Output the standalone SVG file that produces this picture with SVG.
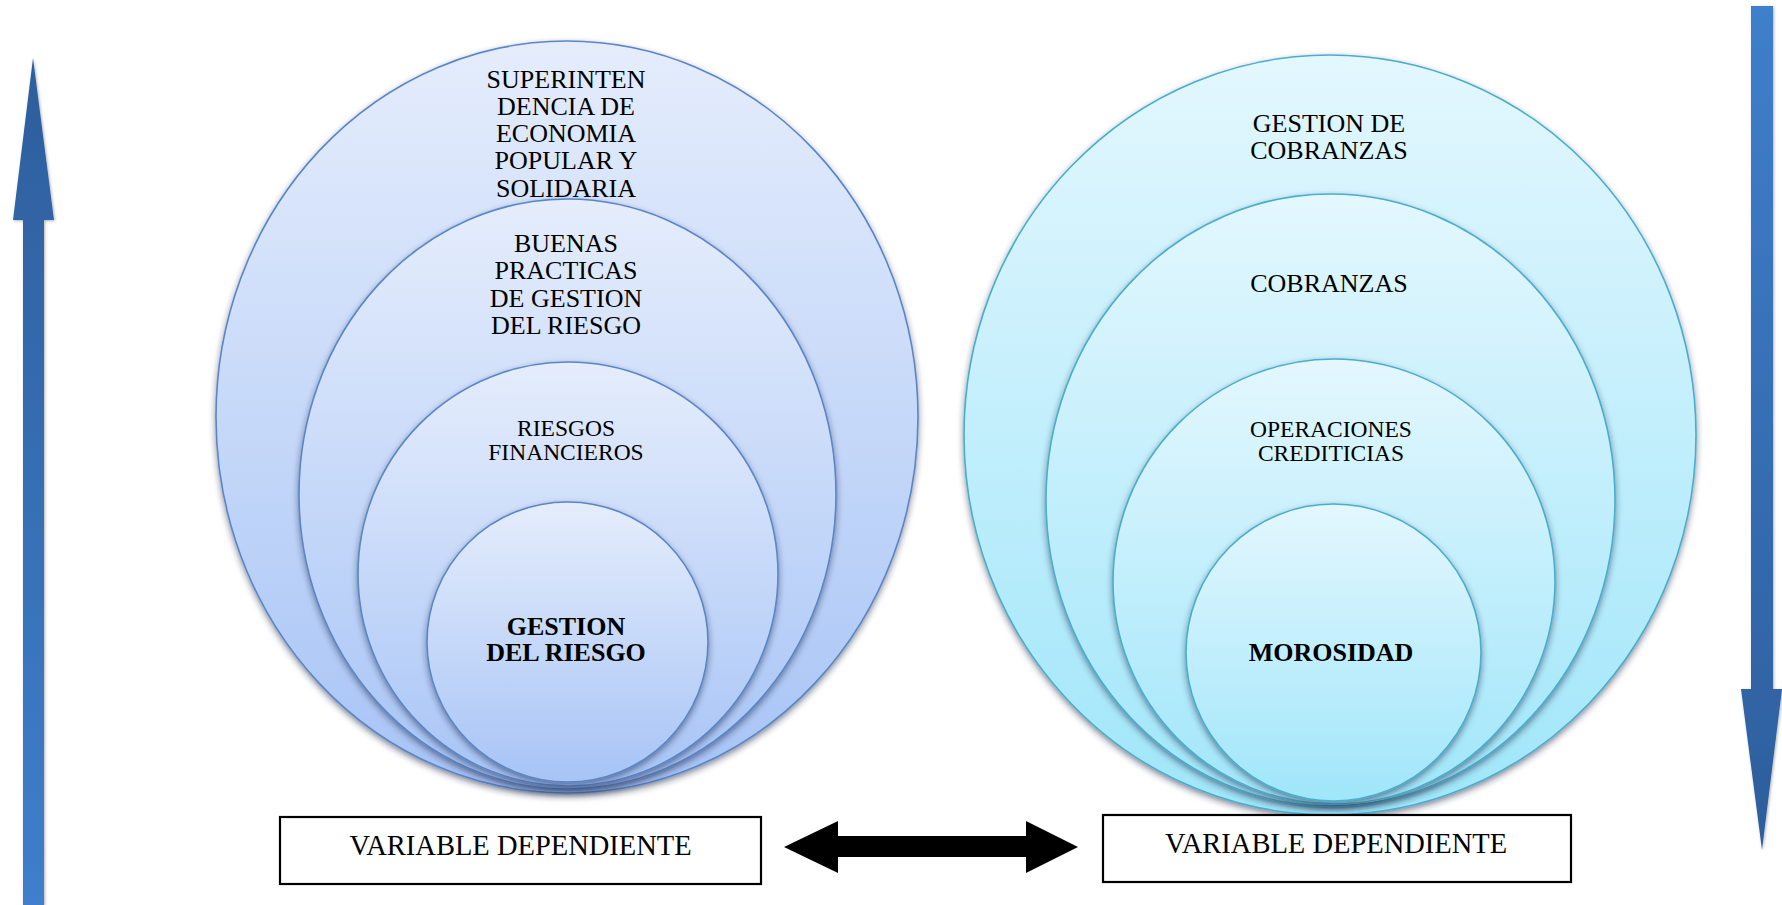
<svg xmlns="http://www.w3.org/2000/svg" width="1782" height="905" viewBox="0 0 1782 905">
  <defs>
    <linearGradient id="gBlue" x1="0" y1="0" x2="0" y2="1">
      <stop offset="0" stop-color="#e5edfc"/>
      <stop offset="1" stop-color="#a7c4f6"/>
    </linearGradient>
    <linearGradient id="gCyan" x1="0" y1="0" x2="0" y2="1">
      <stop offset="0" stop-color="#e3f7fe"/>
      <stop offset="1" stop-color="#a0e6fa"/>
    </linearGradient>
    <linearGradient id="gUp" x1="0" y1="0" x2="0" y2="1">
      <stop offset="0" stop-color="#2d5e9c"/>
      <stop offset="1" stop-color="#3f7fcb"/>
    </linearGradient>
    <linearGradient id="gDown" x1="0" y1="0" x2="0" y2="1">
      <stop offset="0" stop-color="#3f7fcb"/>
      <stop offset="1" stop-color="#2d5e9c"/>
    </linearGradient>
    <filter id="shade" x="-10%" y="-10%" width="120%" height="125%">
      <feDropShadow dx="0" dy="3" stdDeviation="3" flood-color="#1b2c4a" flood-opacity="0.55"/>
    </filter>
    <filter id="soft" x="-30%" y="-5%" width="160%" height="110%">
      <feDropShadow dx="1" dy="1" stdDeviation="1.5" flood-color="#000" flood-opacity="0.3"/>
    </filter>
  </defs>
  <style>
    .blue { fill: url(#gBlue); stroke: #5a86c8; stroke-width: 1.6; filter: url(#shade); }
    .cyan { fill: url(#gCyan); stroke: #4aaecb; stroke-width: 1.6; filter: url(#shade); }
    .t { font-family: "Liberation Serif", "Times New Roman", serif; font-size: 26px; fill: #000; text-anchor: middle; }
    .s { font-size: 23.5px; }
    .b { font-weight: bold; }
    .box { fill: #fff; stroke: #000; stroke-width: 2.2; }
    .lbl { font-family: "Liberation Serif", "Times New Roman", serif; font-size: 28.5px; fill: #000; text-anchor: middle; }
  </style>

  <rect width="1782" height="905" fill="#fff"/>

  <!-- independent-variable nest (blue) -->
  <g id="sup-economia">
    <ellipse class="blue" cx="567" cy="417" rx="351" ry="376"/>
    <text class="t" x="566" y="88">SUPERINTEN</text>
    <text class="t" x="566" y="115">DENCIA DE</text>
    <text class="t" x="566" y="142">ECONOMIA</text>
    <text class="t" x="566" y="169">POPULAR Y</text>
    <text class="t" x="566" y="197">SOLIDARIA</text>
  </g>
  <g id="buenas-practicas">
    <ellipse class="blue" cx="567.5" cy="494" rx="268.5" ry="295"/>
    <text class="t" x="566" y="252">BUENAS</text>
    <text class="t" x="566" y="279">PRACTICAS</text>
    <text class="t" x="566" y="307">DE GESTION</text>
    <text class="t" x="566" y="334">DEL RIESGO</text>
  </g>
  <g id="riesgos-financieros">
    <ellipse class="blue" cx="568" cy="574" rx="210" ry="212"/>
    <text class="t s" x="566" y="436">RIESGOS</text>
    <text class="t s" x="566" y="460">FINANCIEROS</text>
  </g>
  <g id="gestion-riesgo">
    <ellipse class="blue" cx="567.5" cy="642" rx="140.5" ry="140"/>
    <text class="t b" x="566" y="635">GESTION</text>
    <text class="t b" x="566" y="661">DEL RIESGO</text>
  </g>

  <!-- dependent-variable nest (cyan) -->
  <g id="gestion-cobranzas">
    <ellipse class="cyan" cx="1330" cy="435" rx="366" ry="380"/>
    <text class="t" x="1329" y="132">GESTION DE</text>
    <text class="t" x="1329" y="159">COBRANZAS</text>
  </g>
  <g id="cobranzas">
    <ellipse class="cyan" cx="1330.5" cy="500" rx="284.5" ry="306"/>
    <text class="t" x="1329" y="292">COBRANZAS</text>
  </g>
  <g id="operaciones-crediticias">
    <ellipse class="cyan" cx="1334" cy="581.5" rx="221" ry="222.5"/>
    <text class="t s" x="1331" y="437">OPERACIONES</text>
    <text class="t s" x="1331" y="461">CREDITICIAS</text>
  </g>
  <g id="morosidad">
    <ellipse class="cyan" cx="1333.5" cy="652.5" rx="147.5" ry="148.5"/>
    <text class="t b" x="1331" y="661">MOROSIDAD</text>
  </g>

  <!-- variable labels -->
  <g id="label-left">
    <rect class="box" x="280" y="817" width="481" height="67"/>
    <text class="lbl" x="520.5" y="855">VARIABLE DEPENDIENTE</text>
  </g>
  <g id="label-right">
    <rect class="box" x="1103" y="815" width="468" height="67"/>
    <text class="lbl" x="1336" y="853">VARIABLE DEPENDIENTE</text>
  </g>

  <!-- arrows -->
  <g id="connectors">
    <polygon points="784,847 838,821 838,836 1026,836 1026,821 1078,847 1026,873 1026,857 838,857 838,873" fill="#000"/>
    <polygon filter="url(#soft)" fill="url(#gUp)" points="33,58 54,220 44,220 44,905 23,905 23,220 13,220"/>
    <polygon filter="url(#soft)" fill="url(#gDown)" points="1751,6 1773,6 1773,689 1782,689 1762,850 1741,689 1751,689"/>
  </g>
</svg>
